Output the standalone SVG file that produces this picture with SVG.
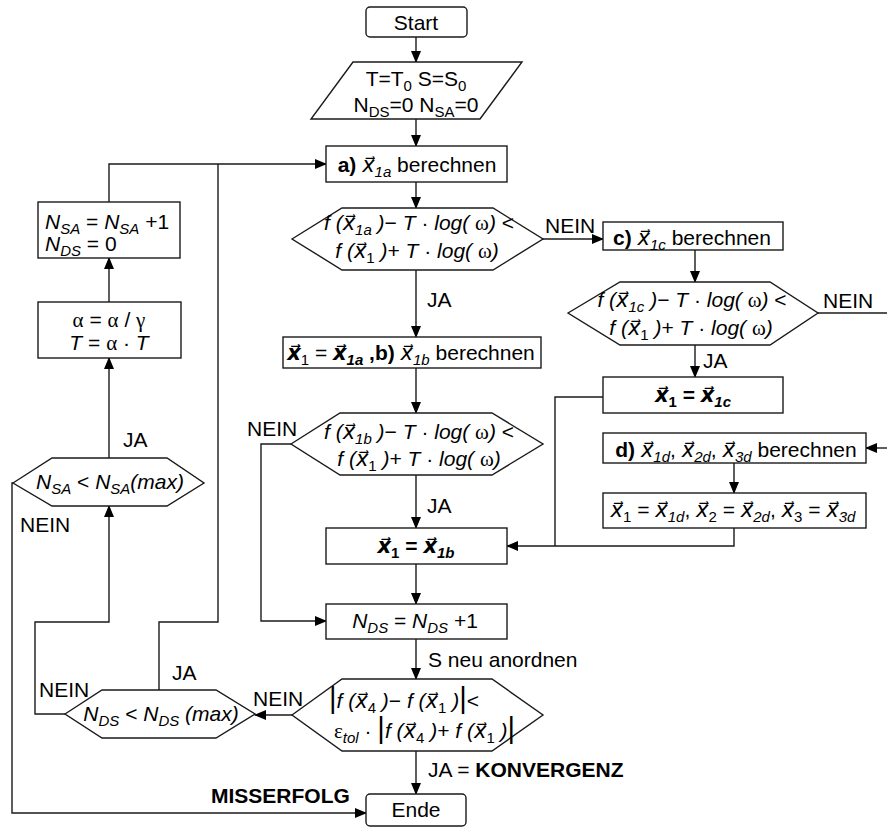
<svg xmlns="http://www.w3.org/2000/svg" width="887" height="828" viewBox="0 0 887 828">
<style>
.sh{fill:#fff;stroke:#1a1a1a;stroke-width:1.4}
.ln{fill:none;stroke:#1a1a1a;stroke-width:1.4}
text{font-family:"Liberation Sans",Arial,"DejaVu Sans",sans-serif;font-size:21px;fill:#000}
.i{font-style:italic}
.b{font-weight:bold}
.n{font-style:normal}
.sub{font-size:15px;baseline-shift:-5px}
.g{font-family:"Liberation Serif","Times New Roman",serif;font-style:normal}
.bar{font-size:29px;font-style:normal}
</style>
<defs>
<marker id="ar" markerWidth="12" markerHeight="10" refX="11" refY="5" orient="auto" markerUnits="userSpaceOnUse">
<path d="M0,0 L12,5 L0,10 z" fill="#000"/>
</marker>
</defs>

<g id="connectors">
<path class="ln" d="M416,37 V62" marker-end="url(#ar)"/>
<path class="ln" d="M416,119 V146" marker-end="url(#ar)"/>
<path class="ln" d="M416,182 V208" marker-end="url(#ar)"/>
<path class="ln" d="M416,270 V337" marker-end="url(#ar)"/>
<path class="ln" d="M543,239 H603" marker-end="url(#ar)"/>
<path class="ln" d="M695,250 V282" marker-end="url(#ar)"/>
<path class="ln" d="M818,313 H887"/>
<path class="ln" d="M695,345 V377" marker-end="url(#ar)"/>
<path class="ln" d="M887,448 H866" marker-end="url(#ar)"/>
<path class="ln" d="M734,463 V493" marker-end="url(#ar)"/>
<path class="ln" d="M734,528 V546 H507" marker-end="url(#ar)"/>
<path class="ln" d="M603,397 H555 V546"/>
<path class="ln" d="M416,368 V413" marker-end="url(#ar)"/>
<path class="ln" d="M416,475 V528" marker-end="url(#ar)"/>
<path class="ln" d="M291,444 H261 V621 H326" marker-end="url(#ar)"/>
<path class="ln" d="M416,564 V604" marker-end="url(#ar)"/>
<path class="ln" d="M416,639 V679" marker-end="url(#ar)"/>
<path class="ln" d="M416,751 V794" marker-end="url(#ar)"/>
<path class="ln" d="M292,715 H255" marker-end="url(#ar)"/>
<path class="ln" d="M65,714 H35 V622 H109 V506" marker-end="url(#ar)"/>
<path class="ln" d="M159,690 V622 H218 V164"/>
<path class="ln" d="M109,458 V358" marker-end="url(#ar)"/>
<path class="ln" d="M109,302 V258" marker-end="url(#ar)"/>
<path class="ln" d="M109,202 V164 H326" marker-end="url(#ar)"/>
<path class="ln" d="M13,483 H12 V813 H366" marker-end="url(#ar)"/>
</g>

<g id="labels">
<text x="545" y="233">NEIN</text>
<text x="427" y="307">JA</text>
<text x="823" y="308">NEIN</text>
<text x="703" y="368">JA</text>
<text x="247" y="436">NEIN</text>
<text x="427" y="513">JA</text>
<text x="428" y="667">S neu anordnen</text>
<text x="428" y="777">JA = <tspan class="b">KONVERGENZ</tspan></text>
<text x="211" y="803" class="b">MISSERFOLG</text>
<text x="123" y="447">JA</text>
<text x="20" y="532">NEIN</text>
<text x="39" y="697">NEIN</text>
<text x="172" y="680">JA</text>
<text x="253" y="706">NEIN</text>
</g>

<g id="start">
<rect class="sh" x="366" y="7" width="101" height="30" rx="4"/>
<text x="416" y="30" text-anchor="middle">Start</text>
</g>

<g id="init">
<path class="sh" d="M353,62 H522 L480,119 H311 Z"/>
<text x="416" y="86" text-anchor="middle">T=T<tspan class="sub">0</tspan> S=S<tspan class="sub">0</tspan></text>
<text x="416" y="112" text-anchor="middle">N<tspan class="sub">DS</tspan>=0 N<tspan class="sub">SA</tspan>=0</text>
</g>

<g id="step-a">
<rect class="sh" x="326" y="146" width="181" height="36"/>
<text x="417" y="172" text-anchor="middle"><tspan class="b">a)</tspan>  <tspan class="i">x⃗<tspan class="sub">1a</tspan></tspan> berechnen</text>
</g>

<g id="test-a">
<path class="sh" d="M292,239 L342,208 H493 L543,239 L493,270 H342 Z"/>
<text class="i" x="419" y="230" text-anchor="middle">f (x⃗<tspan class="sub">1a</tspan> )<tspan class="n">−</tspan> T <tspan class="n">·</tspan> log( <tspan class="g">ω</tspan>) <tspan class="n">&lt;</tspan></text>
<text class="i" x="417" y="258" text-anchor="middle">f (x⃗<tspan class="sub n">1</tspan> )<tspan class="n">+</tspan> T <tspan class="n">·</tspan> log( <tspan class="g">ω</tspan>)</text>
</g>

<g id="step-b">
<rect class="sh" x="283" y="337" width="258" height="31"/>
<text x="411" y="360" text-anchor="middle"><tspan class="i b">x⃗</tspan><tspan class="sub">1</tspan> = <tspan class="i b">x⃗</tspan><tspan class="sub i b">1a</tspan> <tspan class="b">,b)</tspan> <tspan class="i">x⃗<tspan class="sub">1b</tspan></tspan> berechnen</text>
</g>

<g id="step-c">
<rect class="sh" x="603" y="222" width="180" height="28"/>
<text x="692" y="245" text-anchor="middle"><tspan class="b">c)</tspan>  <tspan class="i">x⃗<tspan class="sub">1c</tspan></tspan> berechnen</text>
</g>

<g id="test-c">
<path class="sh" d="M568,313 L620,282 H770 L818,313 L770,345 H620 Z"/>
<text class="i" x="692" y="307" text-anchor="middle">f (x⃗<tspan class="sub">1c</tspan> )<tspan class="n">−</tspan> T <tspan class="n">·</tspan> log( <tspan class="g">ω</tspan>) <tspan class="n">&lt;</tspan></text>
<text class="i" x="691" y="335" text-anchor="middle">f (x⃗<tspan class="sub n">1</tspan> )<tspan class="n">+</tspan> T <tspan class="n">·</tspan> log( <tspan class="g">ω</tspan>)</text>
</g>

<g id="assign-c">
<rect class="sh" x="603" y="377" width="180" height="36"/>
<text x="693" y="402" text-anchor="middle" class="b"><tspan class="i">x⃗</tspan><tspan class="sub">1</tspan> = <tspan class="i">x⃗</tspan><tspan class="sub i">1c</tspan></text>
</g>

<g id="step-d">
<rect class="sh" x="603" y="433" width="263" height="30"/>
<text x="736" y="457" text-anchor="middle"><tspan class="b">d)</tspan> <tspan class="i">x⃗<tspan class="sub">1d</tspan></tspan>, <tspan class="i">x⃗<tspan class="sub">2d</tspan></tspan>, <tspan class="i">x⃗<tspan class="sub">3d</tspan></tspan> berechnen</text>
</g>

<g id="assign-d">
<rect class="sh" x="603" y="493" width="263" height="35"/>
<text x="733" y="517" text-anchor="middle"><tspan class="i">x⃗</tspan><tspan class="sub">1</tspan> = <tspan class="i">x⃗<tspan class="sub">1d</tspan></tspan>, <tspan class="i">x⃗</tspan><tspan class="sub">2</tspan> = <tspan class="i">x⃗<tspan class="sub">2d</tspan></tspan>, <tspan class="i">x⃗</tspan><tspan class="sub">3</tspan> = <tspan class="i">x⃗<tspan class="sub">3d</tspan></tspan></text>
</g>

<g id="test-b">
<path class="sh" d="M291,444 L340,413 H492 L543,444 L492,475 H340 Z"/>
<text class="i" x="419" y="439" text-anchor="middle">f (x⃗<tspan class="sub">1b</tspan> )<tspan class="n">−</tspan> T <tspan class="n">·</tspan> log( <tspan class="g">ω</tspan>) <tspan class="n">&lt;</tspan></text>
<text class="i" x="419" y="466" text-anchor="middle">f (x⃗<tspan class="sub n">1</tspan> )<tspan class="n">+</tspan> T <tspan class="n">·</tspan> log( <tspan class="g">ω</tspan>)</text>
</g>

<g id="assign-b">
<rect class="sh" x="326" y="528" width="181" height="36"/>
<text x="416" y="553" text-anchor="middle" class="b"><tspan class="i">x⃗</tspan><tspan class="sub">1</tspan> = <tspan class="i">x⃗</tspan><tspan class="sub i">1b</tspan></text>
</g>

<g id="inc-ds">
<rect class="sh" x="326" y="604" width="181" height="35"/>
<text x="415" y="628" text-anchor="middle"><tspan class="i">N<tspan class="sub">DS</tspan></tspan> = <tspan class="i">N<tspan class="sub">DS</tspan></tspan> +1</text>
</g>

<g id="test-conv">
<path class="sh" d="M292,715 L342,679 H492 L543,715 L492,751 H342 Z"/>
<text class="i" x="329" y="708"><tspan class="bar">|</tspan>f (x⃗<tspan class="sub n">4</tspan> )<tspan class="n">−</tspan> f (x⃗<tspan class="sub n">1</tspan> )<tspan class="bar">|</tspan><tspan class="n">&lt;</tspan></text>
<text class="i" x="334" y="738"><tspan class="g">ε</tspan><tspan class="sub">tol</tspan> <tspan class="n">·</tspan> <tspan class="bar">|</tspan>f (x⃗<tspan class="sub n">4</tspan> )<tspan class="n">+</tspan> f (x⃗<tspan class="sub n">1</tspan> )<tspan class="bar">|</tspan></text>
</g>

<g id="ende">
<rect class="sh" x="366" y="794" width="100" height="32" rx="4"/>
<text x="416" y="817" text-anchor="middle">Ende</text>
</g>

<g id="test-ds-max">
<path class="sh" d="M65,714 L102,690 H216 L255,714 L216,738 H102 Z"/>
<text class="i" x="161" y="721" text-anchor="middle">N<tspan class="sub">DS</tspan> <tspan class="n">&lt;</tspan> N<tspan class="sub">DS</tspan> (max)</text>
</g>

<g id="test-sa-max">
<path class="sh" d="M13,483 L52,458 H167 L204,483 L167,506 H52 Z"/>
<text class="i" x="110" y="489" text-anchor="middle">N<tspan class="sub">SA</tspan> <tspan class="n">&lt;</tspan> N<tspan class="sub">SA</tspan>(max)</text>
</g>

<g id="cool">
<rect class="sh" x="38" y="302" width="143" height="56"/>
<text x="109" y="327" text-anchor="middle"><tspan class="g">α</tspan> = <tspan class="g">α</tspan> / <tspan class="g">γ</tspan></text>
<text x="109" y="350" text-anchor="middle"><tspan class="i">T</tspan> = <tspan class="g">α</tspan> · <tspan class="i">T</tspan></text>
</g>

<g id="inc-sa">
<rect class="sh" x="38" y="202" width="142" height="56"/>
<text x="45" y="229"><tspan class="i">N<tspan class="sub">SA</tspan></tspan> = <tspan class="i">N<tspan class="sub">SA</tspan></tspan> +1</text>
<text x="45" y="251"><tspan class="i">N<tspan class="sub">DS</tspan></tspan> = 0</text>
</g>
</svg>
